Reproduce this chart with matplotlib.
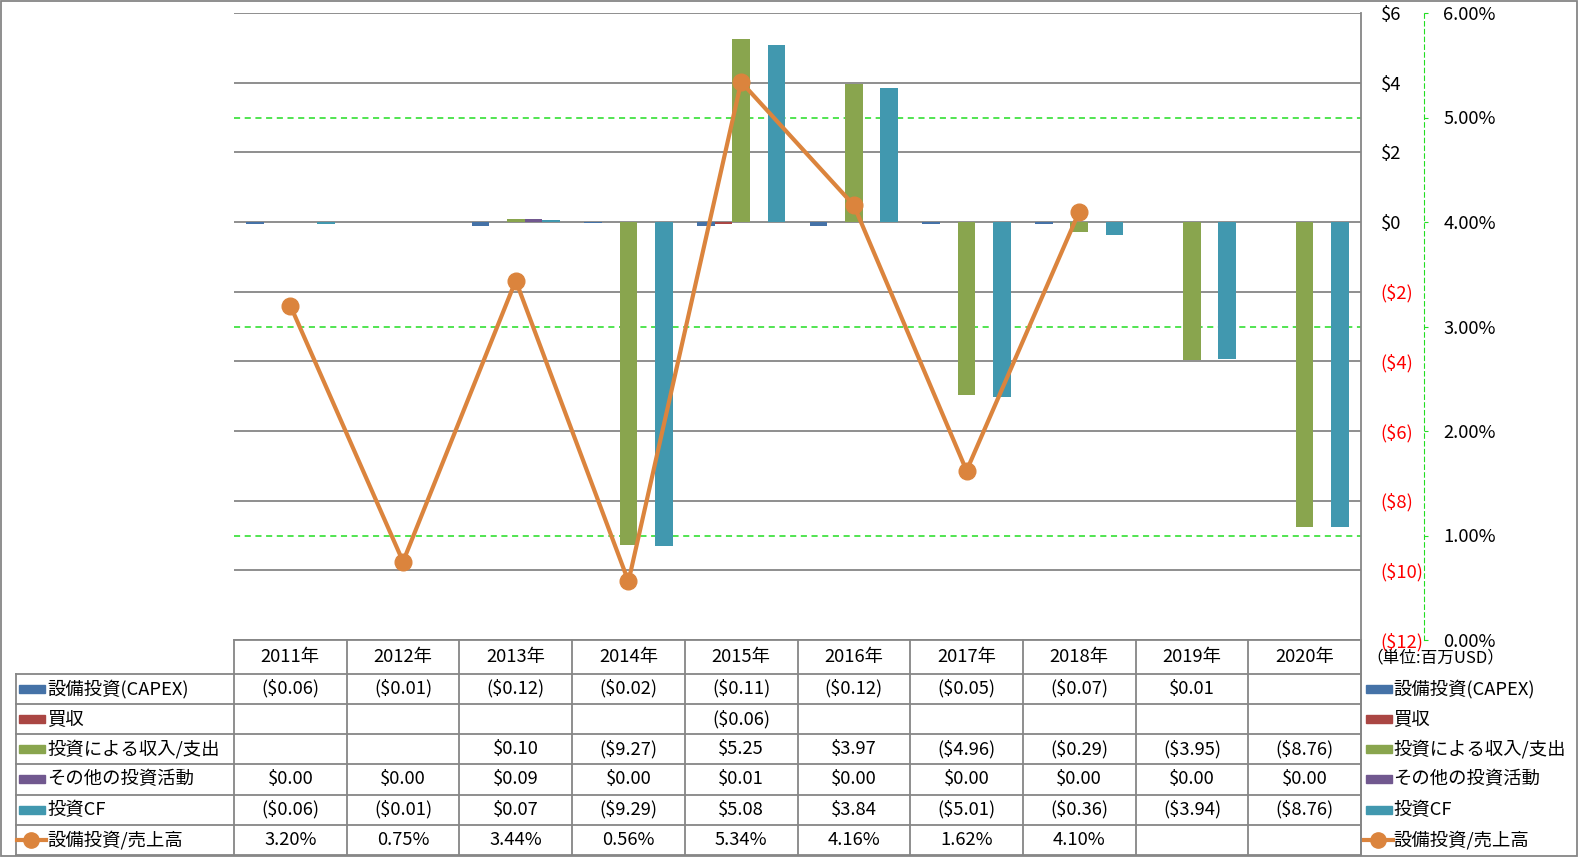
"""Excel風 投資キャッシュフロー棒グラフ + 設備投資/売上高 の折れ線 (データテーブル付き)."""

import matplotlib

matplotlib.use("Agg")
import matplotlib.pyplot as plt
import numpy as np
from matplotlib.lines import Line2D
from matplotlib.patches import Rectangle
from matplotlib.transforms import blended_transform_factory

plt.rcParams["font.family"] = ["Noto Sans CJK JP", "DejaVu Sans"]

nan = np.nan
years = ["2011年", "2012年", "2013年", "2014年", "2015年",
         "2016年", "2017年", "2018年", "2019年", "2020年"]
capex = [-0.06, -0.01, -0.12, -0.02, -0.11, -0.12, -0.05, -0.07, 0.01, nan]
acquisition = [nan, nan, nan, nan, -0.06, nan, nan, nan, nan, nan]
invest_income = [nan, nan, 0.10, -9.27, 5.25, 3.97, -4.96, -0.29, -3.95, -8.76]
other_invest = [0.00, 0.00, 0.09, 0.00, 0.01, 0.00, 0.00, 0.00, 0.00, 0.00]
invest_cf = [-0.06, -0.01, 0.07, -9.29, 5.08, 3.84, -5.01, -0.36, -3.94, -8.76]
capex_ratio = [3.20, 0.75, 3.44, 0.56, 5.34, 4.16, 1.62, 4.10, nan, nan]

series_names = ["設備投資(CAPEX)", "買収", "投資による収入/支出",
                "その他の投資活動", "投資CF"]
series_vals = [capex, acquisition, invest_income, other_invest, invest_cf]
colors = ["#4572A7", "#AA4643", "#89A54E", "#71588F", "#4198AF"]
line_name = "設備投資/売上高"
line_color = "#DB843D"
unit_label = "（単位:百万USD）"

W, H = 1581, 858
GRAY = "#868686"
GREEN = "#22DD22"
FS = 13.2


def fx(px):
    return px / W


def fy(py):
    return 1 - py / H


def fmt_usd(v):
    if np.isnan(v):
        return ""
    return f"(${-v:.2f})" if v < 0 else f"${v:.2f}"


fig = plt.figure(figsize=(W / 100, H / 100), dpi=100)

# zone de trace
L, R, T, B = 234, 1361, 13, 640
ax = fig.add_axes([fx(L), fy(B), fx(R) - fx(L), fy(T) - fy(B)])
ax.set_xlim(-0.5, len(years) - 0.5)
ax.set_ylim(-12, 6)
for s in ax.spines.values():
    s.set_visible(False)
ax.set_xticks([])

x = np.arange(len(years))
w = 0.157
for i, (vals, c) in enumerate(zip(series_vals, colors)):
    ax.bar(x + (i - 2) * w, vals, width=w, color=c, zorder=3)

# axe secondaire (%)
ax2 = ax.twinx()
ax2.set_ylim(0, 6)
for s in ["top", "left", "bottom"]:
    ax2.spines[s].set_visible(False)
ax2.spines["right"].set_position(("axes", (1424 - L) / (R - L)))
ax2.spines["right"].set_color(GREEN)
ax2.spines["right"].set_linestyle((0, (4, 3)))
ax2.set_yticks(range(0, 7))
ax2.set_yticklabels([f"{v:.2f}%" for v in range(0, 7)])
ax2.tick_params(axis="y", direction="out", length=3, color=GREEN, pad=11, labelsize=FS)

# axe principal : etiquettes a droite de la zone (twinx les remet a gauche)
yt = list(range(-12, 7, 2))
ax.yaxis.tick_right()
ax.set_yticks(yt)
ax.set_yticklabels([f"${v}" if v >= 0 else f"(${-v})" for v in yt])
ax.tick_params(axis="y", which="both", left=False, right=False,
               labelleft=False, labelright=True, length=0, pad=14, labelsize=FS)
for lab, v in zip(ax.get_yticklabels(), yt):
    lab.set_color("red" if v < 0 else "black")
ax.yaxis.grid(True, color=GRAY, lw=1.3)
ax.set_axisbelow(True)

# lignes de grille vertes (1%, 3%, 5%) derriere les barres
tr = blended_transform_factory(ax.transAxes, ax2.transData)
for p in [1, 3, 5]:
    ax.plot([0, 1], [p, p], transform=tr, color=GREEN, lw=1.1,
            ls=(0, (4, 3)), zorder=1)

ax2.plot(x, capex_ratio, "-o", color=line_color, lw=3, ms=12, zorder=5)

# contour exterieur + bord droit de la zone
fig.add_artist(Rectangle((fx(1), fy(856)), fx(1576), fy(1) - fy(856),
                         transform=fig.transFigure, fill=False, ec=GRAY, lw=1.3))
fig.add_artist(Line2D([fx(R), fx(R)], [fy(T), fy(855)], color=GRAY, lw=1.3))

# table de donnees
col_w = (R - L) / len(years)
row_top = [673.6 + k * 30.25 for k in range(7)]
fig.add_artist(Line2D([fx(L), fx(R)], [fy(B), fy(B)], color=GRAY, lw=1.3))
for yy in row_top:
    fig.add_artist(Line2D([fx(16), fx(R)], [fy(yy), fy(yy)], color=GRAY, lw=1.3))
for k in range(len(years) + 1):
    xx = L + k * col_w
    fig.add_artist(Line2D([fx(xx), fx(xx)], [fy(B), fy(855)], color=GRAY, lw=1.3))
fig.add_artist(Line2D([fx(16), fx(16)], [fy(row_top[0]), fy(855)], color=GRAY, lw=1.3))

for k, yr in enumerate(years):
    fig.text(fx(L + (k + 0.5) * col_w), fy((B + row_top[0]) / 2), yr,
             ha="center", va="center", fontsize=FS)

rows = [[fmt_usd(v) for v in vals] for vals in series_vals]
rows.append(["" if np.isnan(v) else f"{v:.2f}%" for v in capex_ratio])
for r, cells in enumerate(rows):
    yc = (row_top[r] + row_top[r + 1]) / 2
    for k, txt in enumerate(cells):
        fig.text(fx(L + (k + 0.5) * col_w), fy(yc), txt,
                 ha="center", va="center", fontsize=FS)


def legend_key(x0, yc, idx):
    if idx < len(colors):
        fig.add_artist(Rectangle((fx(x0), fy(yc + 4)), fx(26), fy(0) - fy(8),
                                 transform=fig.transFigure, color=colors[idx]))
    else:
        fig.add_artist(Line2D([fx(x0 - 2), fx(x0 + 27)], [fy(yc), fy(yc)],
                              color=line_color, lw=3))
        fig.add_artist(Line2D([fx(x0 + 12)], [fy(yc)], marker="o", ms=11,
                              color=line_color))


names = series_names + [line_name]
for r, name in enumerate(names):
    yc = (row_top[r] + row_top[r + 1]) / 2
    legend_key(19, yc, r)
    fig.text(fx(47), fy(yc), name, ha="left", va="center", fontsize=FS)
    legend_key(1366, yc, r)
    fig.text(fx(1393), fy(yc), name, ha="left", va="center", fontsize=FS)

fig.text(fx(1366), fy(658), unit_label, ha="left", va="center", fontsize=12)

fig.savefig("out.png", dpi=100)
